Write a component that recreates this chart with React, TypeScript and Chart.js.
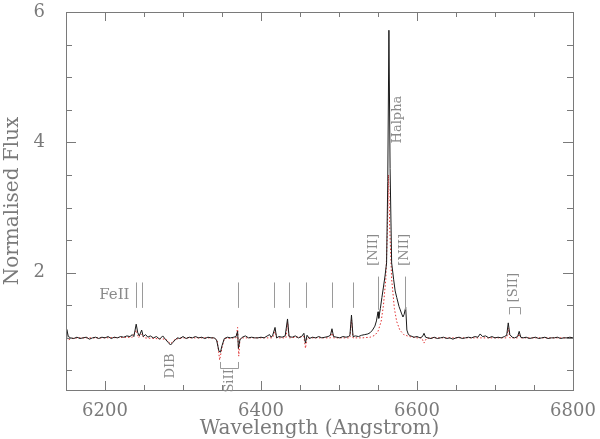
import React, { useEffect, useRef } from "react";
import { Chart, registerables } from "chart.js";

Chart.register(...registerables);

// Observed spectrum (black solid)
const WAVE = [
  6150, 6151, 6153, 6156, 6160, 6164, 6168, 6172, 6176, 6180, 6184, 6188, 6192, 6196, 6200,
  6204, 6208, 6212, 6216, 6220, 6224, 6228, 6232, 6235, 6237, 6240, 6242, 6244, 6247, 6249,
  6252, 6255, 6258, 6262, 6266, 6270, 6274, 6278, 6281, 6284, 6287, 6290, 6293, 6296, 6300,
  6304, 6308, 6312, 6316, 6320, 6324, 6328, 6332, 6336, 6340, 6343, 6346, 6348, 6350, 6353,
  6357, 6361, 6365, 6368, 6370, 6371, 6373, 6376, 6380, 6384, 6388, 6392, 6396, 6400, 6404,
  6408, 6411, 6413, 6415, 6418, 6420, 6423, 6427, 6431, 6434, 6436, 6440, 6444, 6448, 6452,
  6455, 6457, 6459, 6462, 6466, 6470, 6474, 6478, 6482, 6486, 6489, 6491, 6493, 6497, 6501,
  6505, 6509, 6512, 6514, 6516, 6518, 6521, 6525, 6529, 6533, 6537, 6540, 6543, 6546, 6548,
  6550, 6551, 6553, 6555, 6557, 6559, 6561, 6562.5, 6564, 6565.5, 6567.5, 6570, 6572, 6574, 6577,
  6580, 6582, 6583.5, 6585.5, 6587, 6589, 6592, 6596, 6600, 6604, 6607, 6609, 6611, 6614, 6618,
  6622, 6626, 6630, 6634, 6638, 6642, 6646, 6650, 6654, 6658, 6662, 6666, 6670, 6674, 6678,
  6681, 6684, 6688, 6692, 6696, 6700, 6704, 6708, 6712, 6715, 6717, 6719, 6722, 6725, 6729,
  6731, 6733, 6736, 6740, 6744, 6748, 6752, 6756, 6760, 6764, 6768, 6772, 6776, 6780, 6784,
  6788, 6792, 6796, 6800,
];
const FLUX = [
  1.0, 1.13, 1.02, 1.0, 0.99, 1.01, 0.99, 1.0, 1.01, 0.98, 1.0, 1.01, 0.99, 1.01, 1.0,
  1.02, 0.99, 1.01, 1.0, 1.02, 1.01, 1.03, 1.02, 1.05, 1.02, 1.21, 1.08, 1.03, 1.12, 1.02,
  1.05, 1.01, 1.03, 1.0, 1.02, 0.98, 1.03, 0.97, 0.93, 0.89, 0.93, 0.97, 1.0, 0.99, 1.02,
  0.99, 1.01, 1.0, 1.02, 1.0, 1.01, 0.99, 1.01, 1.0, 1.0, 0.97, 0.8, 0.78, 0.88, 0.99,
  1.01, 1.0, 1.01, 1.02, 1.1, 0.84, 0.97, 1.01, 1.03, 1.0, 1.01, 1.0, 1.0, 1.01, 1.0,
  1.03, 1.05, 1.01, 1.04, 1.16, 1.0, 1.02, 1.01, 1.03, 1.29, 1.02, 1.01, 1.03, 1.0, 1.02,
  1.07, 0.92, 1.04, 0.99, 1.01, 1.0, 1.02, 1.0, 1.01, 1.02, 1.04, 1.14, 1.02, 1.01, 1.0,
  1.02, 1.01, 1.02, 1.04, 1.35, 1.02, 1.03, 1.02, 1.04, 1.05, 1.06, 1.08, 1.12, 1.18, 1.26,
  1.4, 1.3, 1.45, 1.62, 1.78, 1.95, 2.15, 3.4, 5.72, 3.6, 2.15, 1.9, 1.72, 1.62, 1.48,
  1.38, 1.32, 1.36, 1.47, 1.12, 1.05, 1.03, 1.01, 1.02, 1.0, 1.02, 1.07, 1.01, 1.0, 0.99,
  1.01, 0.99, 1.0, 1.01, 0.99, 1.0, 0.98, 1.0, 1.01, 0.99, 1.0, 1.01, 1.0, 1.02, 1.01,
  1.06, 1.02, 1.03, 1.0, 1.02, 1.0, 1.01, 1.0, 1.02, 1.04, 1.23, 1.05, 1.01, 1.0, 1.02,
  1.1, 1.01, 1.0, 1.01, 0.99, 1.0, 1.01, 0.99, 1.0, 1.01, 0.99, 1.0, 1.0, 1.01, 0.99,
  1.0, 1.0, 1.01, 1.0,
];

// Comparison spectrum (red dotted)
const MODEL_WAVE = [
  6150, 6153, 6157, 6165, 6200, 6235, 6240, 6243, 6247, 6250, 6278, 6284, 6290, 6300, 6340,
  6344, 6347, 6350, 6353, 6368, 6370, 6371.5, 6373, 6376, 6415, 6418, 6420, 6432, 6434, 6436,
  6455, 6457, 6459, 6489, 6491, 6493, 6514, 6516, 6518, 6530, 6540, 6546, 6550, 6554, 6557,
  6560, 6562, 6563.5, 6565, 6567.5, 6571, 6574, 6578, 6583, 6590, 6600, 6606, 6609, 6612, 6620,
  6700, 6715, 6717, 6719, 6729, 6731, 6733, 6800,
];
const MODEL_FLUX = [
  1.0, 0.97, 0.99, 1.0, 1.0, 1.01, 1.12, 1.0, 1.06, 1.0, 0.98, 0.91, 0.98, 1.0, 1.0,
  0.95, 0.66, 0.85, 0.99, 1.0, 1.16, 0.72, 0.98, 1.0, 1.0, 1.12, 1.0, 1.0, 1.24, 1.0,
  1.02, 0.84, 1.0, 1.0, 1.1, 1.0, 1.0, 1.28, 1.0, 1.0, 1.01, 1.04, 1.1, 1.25, 1.5,
  1.9, 2.6, 3.5, 2.7, 1.9, 1.45, 1.25, 1.12, 1.05, 1.02, 1.0, 1.0, 0.92, 0.99, 1.0,
  1.0, 1.0, 1.15, 1.0, 1.0, 1.06, 1.0, 1.0,
];

const X_TICKS = [6200, 6400, 6600, 6800];
const Y_TICKS = [2, 4, 6];
const X_RANGE = [6150, 6800];
const Y_RANGE = [0.2, 6];

// Line identification markers (wavelength) and their flux extents
const LINE_MARKERS = [6239.5, 6247.5, 6370, 6416.5, 6435.5, 6457.5, 6491, 6517.5];
const LINE_MARKER_FLUX = [1.46, 1.85];
const NII_MARKERS = [6549.5, 6584.5];
const NII_MARKER_FLUX = [1.43, 1.94];
const SII_BRACKET = [6717.6, 6731.7];
const SII_BRACKET_FLUX = [1.36, 1.47];
const SIII_BRACKET = [6347, 6371];
const SIII_BRACKET_FLUX = [0.63, 0.54];

const LABEL_TEXT = ["FeII", "[NII]", "[NII]", "Halpha", "[SII]", "DIB", "SiII"];
const LABEL_WAVE = [6212, 6545, 6584, 6575.6, 6724.5, 6284.6, 6359.8];
const LABEL_FLUX = [1.66, 2.35, 2.35, 4.35, 1.77, 0.57, 0.34];
const LABEL_ROTATED = [false, true, true, true, true, true, true];

const FONT = "'DejaVu Serif', serif";
const AXIS_GRAY = "#7a7a7a";
const TEXT_GRAY = "#8a8a8a";

const decorPlugin = {
  id: "decor",
  afterDraw(chart: any) {
    const { ctx, chartArea: a, scales } = chart;
    const xs = scales.x;
    const ys = scales.y;
    ctx.save();
    // frame
    ctx.strokeStyle = AXIS_GRAY;
    ctx.lineWidth = 1;
    ctx.strokeRect(Math.round(a.left) + 0.5, Math.round(a.top) + 0.5, Math.round(a.right - a.left), Math.round(a.bottom - a.top));
    // x ticks (inward, top and bottom)
    ctx.beginPath();
    for (let v = X_RANGE[0]; v <= X_RANGE[1]; v += 50) {
      if (v === X_RANGE[0] || v === X_RANGE[1]) continue;
      const major = X_TICKS.includes(v);
      const len = major ? 9 : 5;
      const px = Math.round(xs.getPixelForValue(v)) + 0.5;
      ctx.moveTo(px, a.bottom);
      ctx.lineTo(px, a.bottom - len);
      ctx.moveTo(px, a.top);
      ctx.lineTo(px, a.top + len);
    }
    // y ticks (inward, left and right)
    for (let i = 1; i * 0.5 < Y_RANGE[1]; i++) {
      const v = i * 0.5;
      if (v <= Y_RANGE[0]) continue;
      const major = Y_TICKS.includes(v);
      const len = major ? 10 : 6;
      const py = Math.round(ys.getPixelForValue(v)) + 0.5;
      ctx.moveTo(a.left, py);
      ctx.lineTo(a.left + len, py);
      ctx.moveTo(a.right, py);
      ctx.lineTo(a.right - len, py);
    }
    ctx.stroke();

    // line markers
    ctx.strokeStyle = "#9a9a9a";
    ctx.beginPath();
    const vline = (w: number, f0: number, f1: number) => {
      const px = Math.round(xs.getPixelForValue(w)) + 0.5;
      ctx.moveTo(px, ys.getPixelForValue(f0));
      ctx.lineTo(px, ys.getPixelForValue(f1));
    };
    LINE_MARKERS.forEach((w) => vline(w, LINE_MARKER_FLUX[0], LINE_MARKER_FLUX[1]));
    NII_MARKERS.forEach((w) => vline(w, NII_MARKER_FLUX[0], NII_MARKER_FLUX[1]));
    // brackets
    const bracket = (ws: number[], fs: number[]) => {
      const x0 = Math.round(xs.getPixelForValue(ws[0])) + 0.5;
      const x1 = Math.round(xs.getPixelForValue(ws[1])) + 0.5;
      const yLeg = ys.getPixelForValue(fs[0]);
      const yBar = Math.round(ys.getPixelForValue(fs[1])) + 0.5;
      ctx.moveTo(x0, yLeg);
      ctx.lineTo(x0, yBar);
      ctx.lineTo(x1, yBar);
      ctx.lineTo(x1, yLeg);
    };
    bracket(SII_BRACKET, SII_BRACKET_FLUX);
    bracket(SIII_BRACKET, SIII_BRACKET_FLUX);
    ctx.stroke();

    // labels
    ctx.fillStyle = TEXT_GRAY;
    ctx.textAlign = "center";
    ctx.textBaseline = "middle";
    LABEL_TEXT.forEach((t, i) => {
      const px = xs.getPixelForValue(LABEL_WAVE[i]);
      const py = ys.getPixelForValue(LABEL_FLUX[i]);
      ctx.save();
      ctx.translate(px, py);
      if (LABEL_ROTATED[i]) {
        ctx.rotate(-Math.PI / 2);
        ctx.font = `13px ${FONT}`;
      } else {
        ctx.font = `15px ${FONT}`;
      }
      ctx.fillText(t, 0, 0);
      ctx.restore();
    });
    ctx.restore();
  },
};

export default function App() {
  const ref = useRef<HTMLCanvasElement | null>(null);
  useEffect(() => {
    document.body.style.margin = "0";
    const canvas = ref.current;
    if (!canvas) return;
    const chart = new Chart(canvas, {
      type: "line",
      data: {
        datasets: [
          {
            label: "observed",
            data: WAVE.map((w, i) => ({ x: w, y: FLUX[i] })),
            borderColor: "#1a1a1a",
            borderWidth: 1,
            pointRadius: 0,
            tension: 0,
            fill: false,
          },
          {
            label: "comparison",
            data: MODEL_WAVE.map((w, i) => ({ x: w, y: MODEL_FLUX[i] })),
            borderColor: "#e03030",
            borderWidth: 1,
            borderDash: [1.5, 2],
            pointRadius: 0,
            tension: 0,
            fill: false,
          },
        ],
      },
      options: {
        animation: false,
        responsive: false,
        maintainAspectRatio: false,
        layout: { padding: { left: 0, top: 12, right: 27, bottom: 0 } },
        plugins: { legend: { display: false }, tooltip: { enabled: false } },
        scales: {
          x: {
            type: "linear",
            min: X_RANGE[0],
            max: X_RANGE[1],
            grid: { display: false },
            border: { display: false },
            afterBuildTicks: (s: any) => {
              s.ticks = X_TICKS.map((v) => ({ value: v }));
            },
            afterFit: (s: any) => {
              s.height = 49;
              s.paddingLeft = 0;
              s.paddingRight = 0;
            },
            ticks: {
              autoSkip: false,
              maxRotation: 0,
              padding: 3,
              color: AXIS_GRAY,
              font: { family: FONT, size: 18 },
              callback: (v: any) => String(v),
            },
            title: {
              display: true,
              text: "Wavelength (Angstrom)",
              color: AXIS_GRAY,
              font: { family: FONT, size: 20, lineHeight: 1.0 },
              padding: { top: 0, bottom: 0 },
            },
          },
          y: {
            type: "linear",
            min: Y_RANGE[0],
            max: Y_RANGE[1],
            grid: { display: false },
            border: { display: false },
            afterBuildTicks: (s: any) => {
              s.ticks = Y_TICKS.map((v) => ({ value: v }));
            },
            afterFit: (s: any) => {
              s.width = 66;
              s.paddingTop = 0;
              s.paddingBottom = 0;
            },
            ticks: {
              autoSkip: false,
              padding: 13,
              color: AXIS_GRAY,
              font: { family: FONT, size: 18 },
              callback: (v: any) => String(v),
            },
            title: {
              display: true,
              text: "Normalised Flux",
              color: AXIS_GRAY,
              font: { family: FONT, size: 20 },
              padding: { top: 1, bottom: 0 },
            },
          },
        },
      },
      plugins: [decorPlugin],
    });
    return () => chart.destroy();
  }, []);
  return (
    <div style={{ position: "fixed", left: 0, top: 0, width: 600, height: 439, background: "#fff" }}>
      <canvas ref={ref} width={600} height={439} style={{ width: 600, height: 439 }} />
    </div>
  );
}
